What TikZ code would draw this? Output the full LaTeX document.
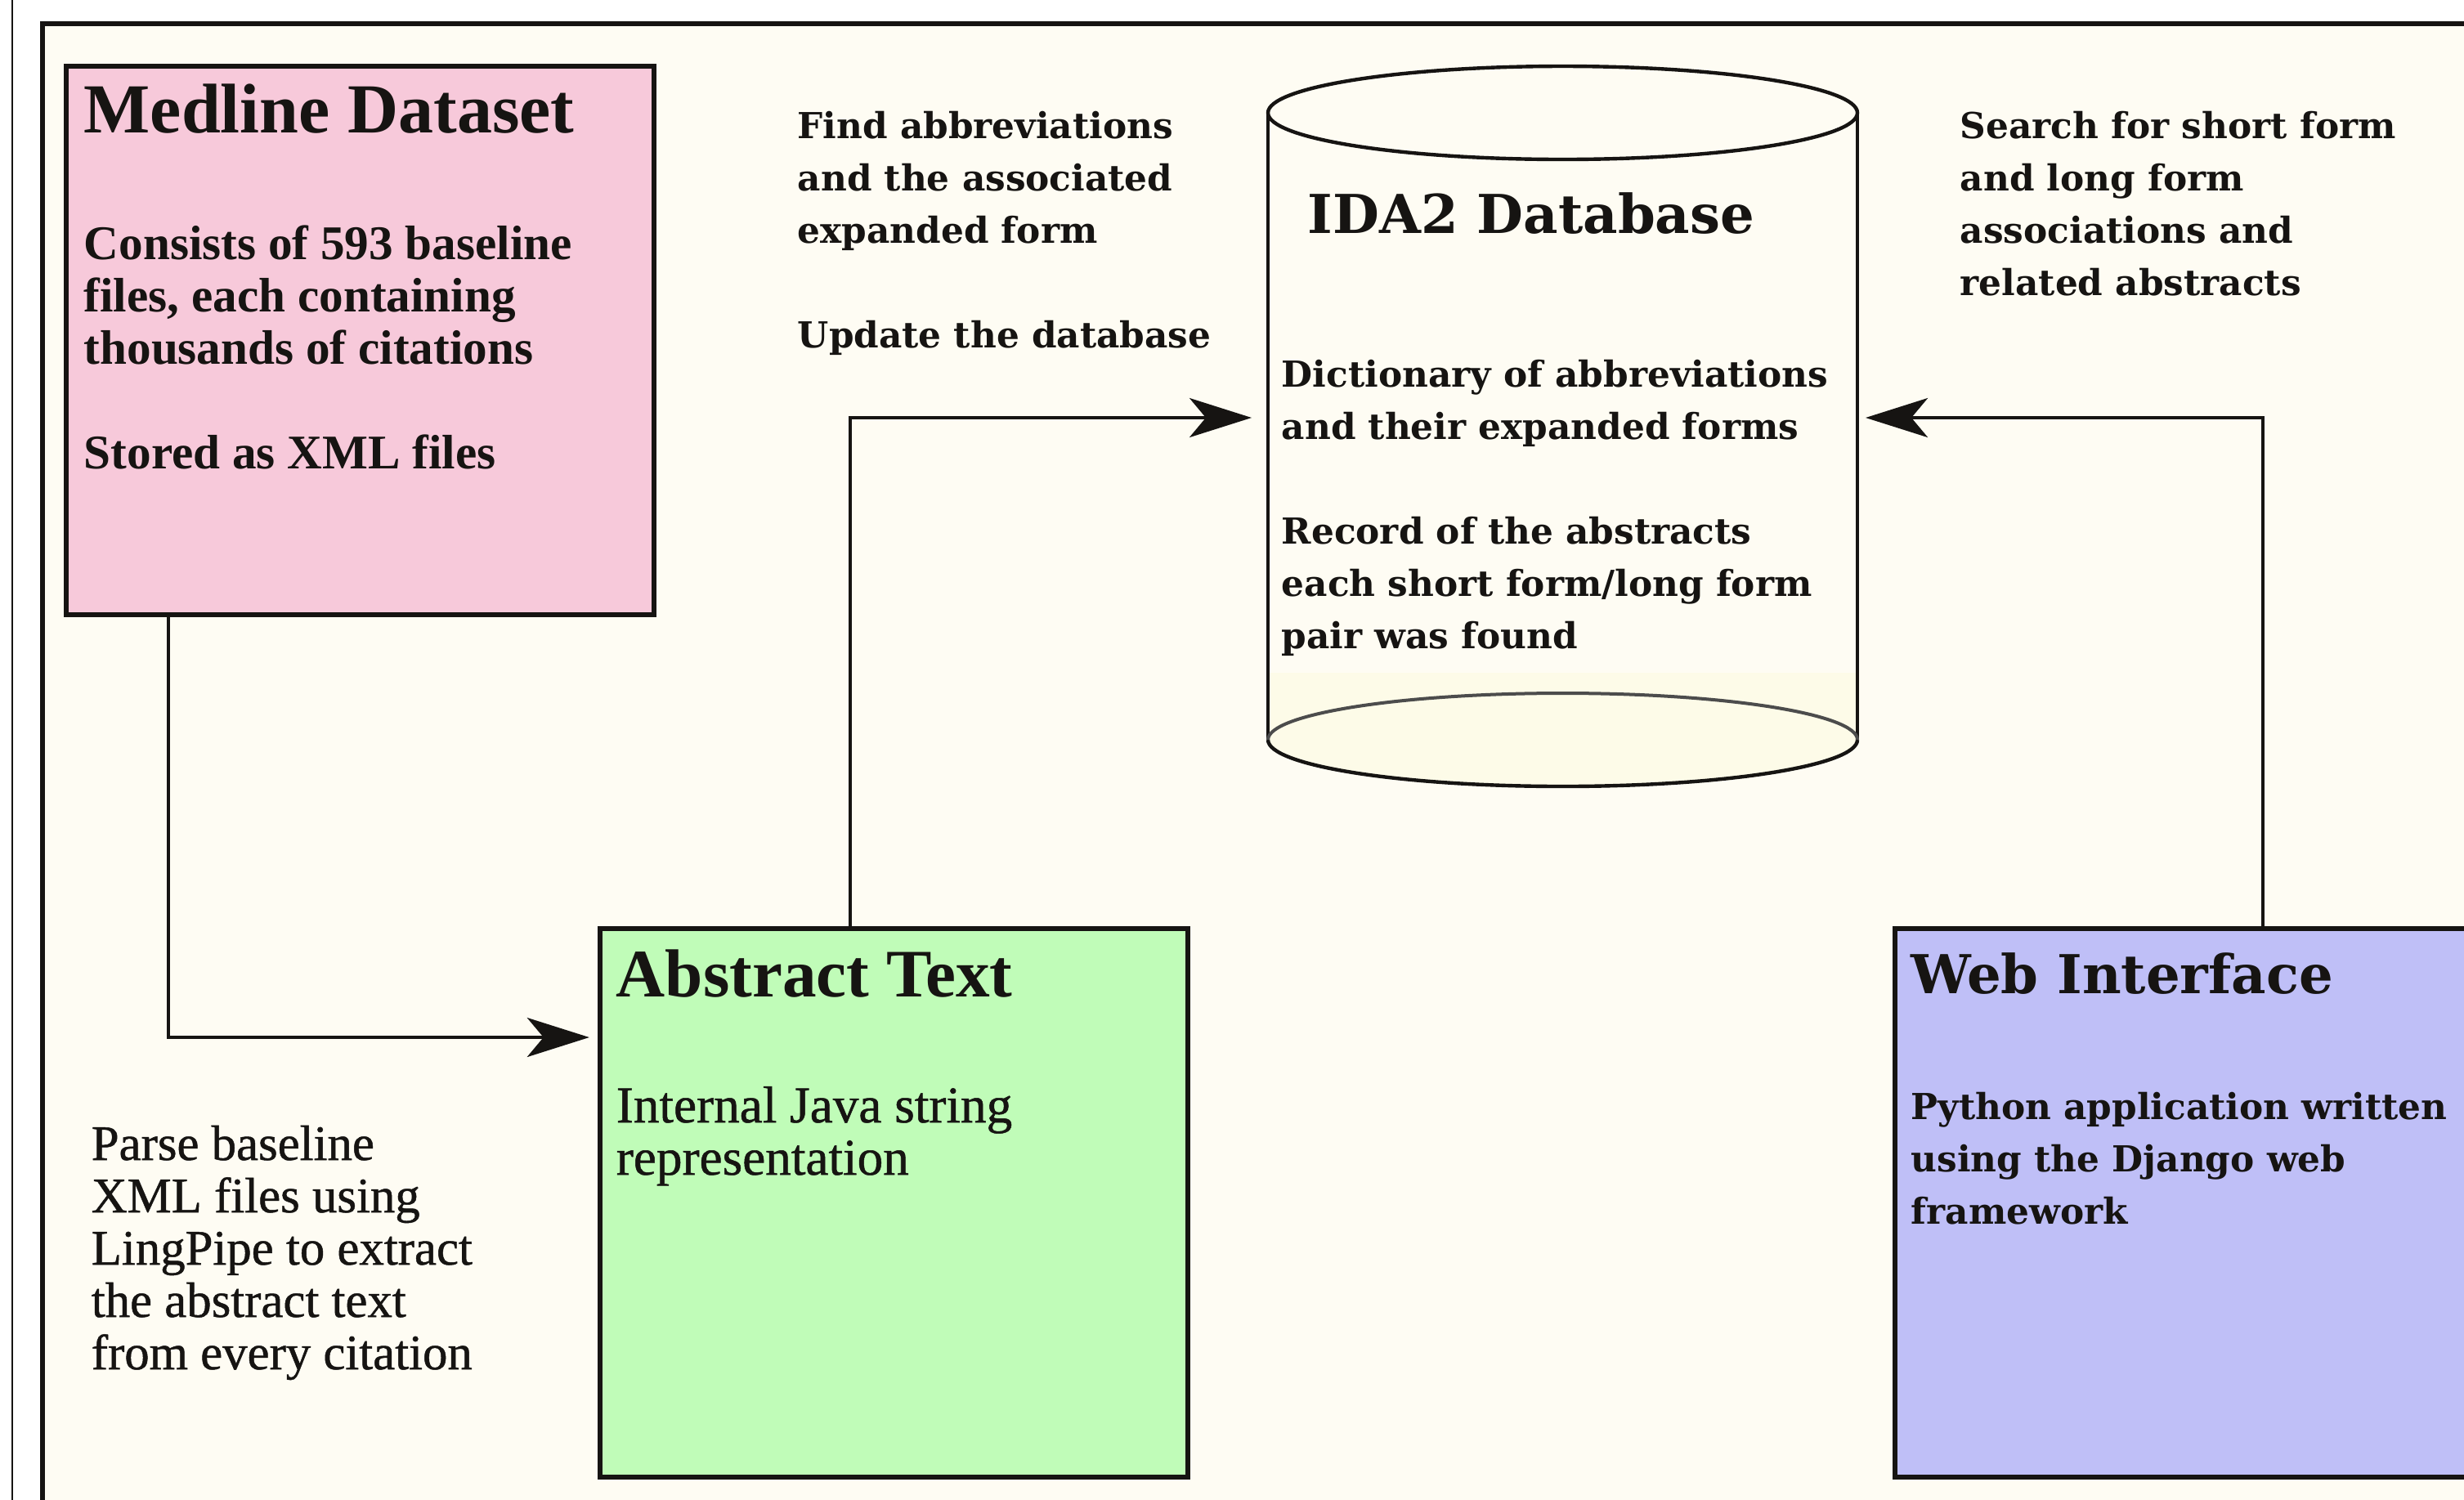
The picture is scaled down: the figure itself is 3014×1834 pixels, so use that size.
\documentclass[tikz,border=0pt]{standalone}
\usepackage{fontspec}
\setmainfont{Liberation Serif}
\newfontfamily\dvs{DejaVu Serif}
\newfontfamily\libmed{Liberation Serif}[FakeBold=0.8]
\usetikzlibrary{arrows.meta}
\definecolor{bgc}{HTML}{FEFCF3}
\definecolor{pinkc}{HTML}{F7C9DA}
\definecolor{greenc}{HTML}{C0FCB8}
\definecolor{purplec}{HTML}{BFBFF7}
\definecolor{bandc}{HTML}{FDFBE8}
\definecolor{inkc}{HTML}{161412}
\newcommand\mylines[1]{\vtop{\halign{##\hfil\cr#1\crcr}}}
\tikzset{
  boxstyle/.style={draw=inkc, line width=1.3pt, inner sep=0pt, outer sep=0pt, anchor=north west},
  conn/.style={draw=inkc, line width=1pt, -{Stealth[length=19pt, width=12pt, inset=5pt]}},
  libtitle/.style={anchor=base west, inner sep=0pt, text=inkc, font=\bfseries\fontsize{21.5}{24}\selectfont},
  libtitleb/.style={anchor=base west, inner sep=0pt, text=inkc, font=\bfseries\fontsize{20.8}{24}\selectfont},
  libbody/.style={anchor=base west, inner sep=0pt, text=inkc, font=\libmed\fontsize{15.2}{16}\selectfont},
  libbodyb/.style={anchor=base west, inner sep=0pt, text=inkc, font=\libmed\fontsize{15.8}{16}\selectfont},
  libbold/.style={anchor=base west, inner sep=0pt, text=inkc, font=\bfseries\fontsize{14.8}{16}\selectfont},
  dvtitle/.style={anchor=base west, inner sep=0pt, text=inkc, font=\dvs\bfseries\fontsize{16.4}{20}\selectfont},
  dvbody/.style={anchor=base west, inner sep=0pt, text=inkc, font=\dvs\bfseries\fontsize{10.95}{16}\selectfont}
}
\begin{document}
\begin{tikzpicture}[x=0.25pt,y=-0.25pt]
\useasboundingbox (0,0) rectangle (3014,1834);
\clip (0,0) rectangle (3014,1834);
\fill[white] (0,0) rectangle (3014,1834);
% thin outer line and frame
\draw[inkc, line width=0.6pt] (15,-20) -- (15,1860);
\draw[inkc, fill=bgc, line width=1.5pt] (52,29) rectangle (3200,2000);

% boxes
\node[boxstyle, fill=pinkc, minimum width=179.75pt, minimum height=167.75pt] (med) at (81,81) {};
\node[boxstyle, fill=greenc, minimum width=179.75pt, minimum height=167.75pt] (abs) at (734,1136) {};
\node[boxstyle, fill=purplec, minimum width=200pt, minimum height=167.75pt] (web) at (2318,1136) {};

% cylinder
\fill[bgc] (1551,138) rectangle (2272,905);
\fill[bandc] (1553,823) rectangle (2270,905);
\fill[bandc] (1551,905) arc[start angle=180, end angle=0, x radius=360.5, y radius=57] -- cycle;
\draw[inkc, line width=1.1pt] (1911.5,138) ellipse [x radius=360.5, y radius=57];
\draw[inkc, line width=1.2pt] (1551,138) -- (1551,905);
\draw[inkc, line width=1.2pt] (2272,138) -- (2272,905);
\draw[inkc, line width=1.1pt] (1551,905) arc[start angle=180, end angle=0, x radius=360.5, y radius=57];
\draw[black!70, line width=1pt] (1551,905) arc[start angle=180, end angle=360, x radius=360.5, y radius=57];
\coordinate (dbL) at (1551,511);
\coordinate (dbR) at (2272,511);

% connectors
\coordinate (k1) at (206,1269);
\coordinate (k2) at (1040,511);
\coordinate (k3) at (2768,511);
\draw[conn, shorten >=3.3pt] (med.south -| k1) |- (abs.west |- k1);
\draw[conn, shorten >=5pt] (abs.north -| k2) |- (dbL);
\draw[conn, shorten >=2.5pt] (web.north -| k3) |- (dbR);

% texts
\node[libtitle] (medt) at (102,162) {Medline Dataset};
\node[libbold] (medb) at (102,317) {\mylines{Consists of 593 baseline\cr files, each containing\cr thousands of citations\cr \cr Stored as XML files}};
\node[libtitleb] (abst) at (753,1219) {Abstract Text};
\node[libbodyb] (absb) at (753,1373) {\mylines{Internal Java string\cr representation}};
\node[libbody] (parse) at (111,1419) {\mylines{Parse baseline\cr XML files using\cr LingPipe to extract\cr the abstract text\cr from every citation}};
\node[dvbody] (find) at (975,169) {\mylines{Find abbreviations\cr and the associated\cr expanded form\cr \cr Update the database}};
\node[dvbody] (search) at (2397,169) {\mylines{Search for short form\cr and long form\cr associations and\cr related abstracts}};
\node[dvtitle] (dbt) at (1599,285) {IDA2 Database};
\node[dvbody] (dbb) at (1567,473) {\mylines{Dictionary of abbreviations\cr and their expanded forms\cr \cr Record of the abstracts\cr each short form/long form\cr pair was found}};
\node[dvtitle] (webt) at (2337,1215) {Web Interface};
\node[dvbody] (webb) at (2337,1369) {\mylines{Python application written\cr using the Django web\cr framework}};
\end{tikzpicture}
\end{document}
